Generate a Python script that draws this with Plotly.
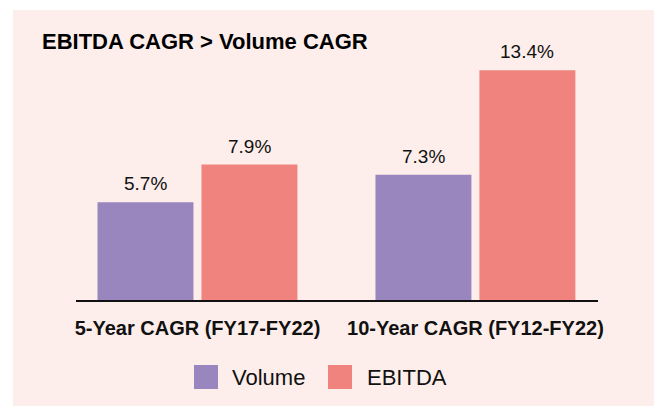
import plotly.graph_objects as go

categories = ["5-Year CAGR (FY17-FY22)", "10-Year CAGR (FY12-FY22)"]
volume = [5.7, 7.3]
ebitda = [7.9, 13.4]
series_names = ["Volume", "EBITDA"]
title_text = "EBITDA CAGR > Volume CAGR"

# page is 662x406; the html body adds an 8px margin, so the figure is 8px smaller
OFF = 8
W, H = 662 - OFF, 406 - OFF
L, R, T, B = 76 - OFF, 64, 50 - OFF, 106
PW, PH = W - L - R, H - T - B

def px_x(px):
    return (px - OFF - L) / PW

def px_y(py):
    return (H - B - (py - OFF)) / PH

colors = ["#9986be", "#f1837f"]
font_family = "Liberation Sans, Arial, Helvetica, sans-serif"
bar_slot_px = 104

fig = go.Figure()
annotations = []
for i, (name, vals, col) in enumerate(zip(series_names, [volume, ebitda], colors)):
    fig.add_trace(go.Bar(
        x=categories, y=vals, name=name, marker=dict(color=col, line=dict(width=0)),
        cliponaxis=False, showlegend=False, hoverinfo="x+y+name",
    ))
    shift = (i - 0.5) * bar_slot_px
    for c, v in zip(categories, vals):
        annotations.append(dict(text=f"{v}%", x=c, y=v, xref="x", yref="y",
                                xshift=shift, yshift=6, xanchor="center", yanchor="bottom",
                                showarrow=False,
                                font=dict(size=19, color="#111111", family=font_family)))

shapes = [dict(type="rect", xref="paper", yref="paper", layer="below",
               x0=px_x(13), x1=px_x(662 + 5), y0=px_y(406 + 5), y1=px_y(10),
               fillcolor="#fdeeeb", line=dict(width=0))]
annotations.append(dict(text=f"<b>{title_text}</b>", xref="paper", yref="paper",
                        x=px_x(40), y=px_y(42), xanchor="left", yanchor="middle",
                        showarrow=False, font=dict(size=22, color="#000000", family=font_family)))

leg_sq = [(194, 218), (328, 352)]
leg_tx = [230, 365]
for (a, b), tx, name, col in zip(leg_sq, leg_tx, series_names, colors):
    shapes.append(dict(type="rect", xref="paper", yref="paper",
                       x0=px_x(a), x1=px_x(b), y0=px_y(389), y1=px_y(365),
                       fillcolor=col, line=dict(width=0)))
    annotations.append(dict(text=name, xref="paper", yref="paper", x=px_x(tx), y=px_y(377),
                            xanchor="left", yanchor="middle", showarrow=False,
                            font=dict(size=22, color="#111111", family=font_family)))

fig.update_layout(
    width=W, height=H, margin=dict(l=L, r=R, t=T, b=B, pad=0),
    paper_bgcolor="#ffffff", plot_bgcolor="rgba(0,0,0,0)",
    barmode="group", bargap=0.252, bargroupgap=0.077,
    shapes=shapes, annotations=annotations,
    font=dict(family=font_family),
    xaxis=dict(range=[-0.437, 1.441], showline=True, linecolor="#111111", linewidth=1.5,
               showgrid=False, zeroline=False, ticks="", ticklabelstandoff=9,
               tickfont=dict(size=20, color="#111111", family=font_family),
               tickprefix="<b>", ticksuffix="</b>"),
    yaxis=dict(range=[0, PH / 17.15], visible=False, showgrid=False, zeroline=False),
)
fig.write_html("out.html")
